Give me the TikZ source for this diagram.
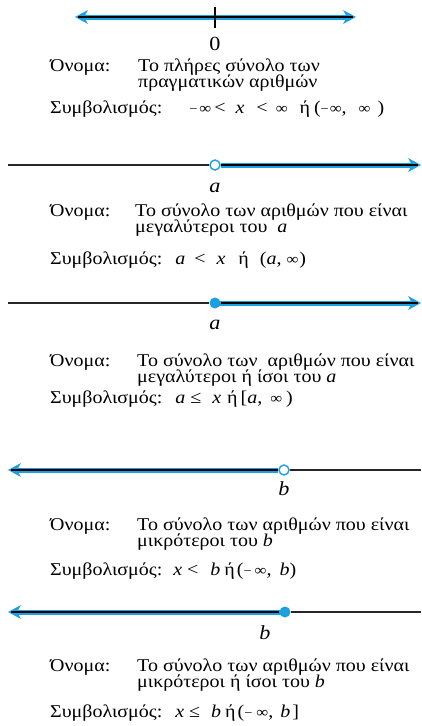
\documentclass[tikz,border=0pt]{standalone}
\usepackage{fontspec}
\setmainfont{Liberation Serif}[FakeStretch=1.11]
\usetikzlibrary{arrows.meta, positioning}
\definecolor{rayBlue}{RGB}{27,161,226}
\newcommand{\vr}[1]{\textit{#1}}
\newcommand{\mn}{{\fontsize{13}{13}\selectfont −}}
\newcommand{\infy}{{\fontsize{15}{15}\selectfont ∞}}
\newcommand{\txtfont}{\fontsize{18}{16}\selectfont\lineskiplimit-30pt\relax}
\tikzset{
  ray/.style={draw=rayBlue, line width=5pt},
  raycore/.style={draw=black, line width=1.1pt},
  axisline/.style={draw=black!85, line width=1.1pt},
  tipend/.style={-{Stealth[length=13pt, width=14pt, inset=4pt, line width=0pt]}},
  tipboth/.style={{Stealth[length=13pt, width=14pt, inset=4pt, line width=0pt]}-{Stealth[length=13pt, width=14pt, inset=4pt, line width=0pt]}},
  opendot/.style={circle, draw=rayBlue, fill=white, line width=1.4pt,
                  minimum size=10pt, inner sep=0pt},
  fulldot/.style={circle, fill=rayBlue, minimum size=11pt, inner sep=0pt},
  txt/.style={font=\txtfont, anchor=base west, inner sep=0pt, align=left},
  pt/.style={font=\fontsize{20}{20}\selectfont, anchor=base, inner sep=0pt},
}
\begin{document}
\begin{tikzpicture}[x=1pt, y=-1pt]
  \useasboundingbox (0,0) rectangle (421,726);
  % ================= all reals =================
  \begin{scope}
    \coordinate (allL) at (75,17);
    \coordinate (allR) at (356,17);
    \draw[ray, tipboth] (allL) -- (allR);
    \draw[raycore, shorten <=3pt, shorten >=3pt] (allL) -- (allR);
    \coordinate (zeroT) at (215,7);
    \coordinate (zeroB) at (215,28);
    \draw[line width=1.2pt] (zeroT) -- (zeroB);
    \node[pt] (zeroLbl) at (215,50) {0};
    \node[txt] (allName) at (50,71) {Όνομα:};
    % two-line texts sit on the baseline of their last line
    \node[txt] (allText) at (138,87) {Το πλήρες σύνολο των\\πραγματικών αριθμών};
    \node[txt] (allSym) at (50,113)
      {Συμβολισμός:\hspace{27pt}\mn\hspace{2pt}\infy\hspace{3pt}<\hspace{10pt}\vr{x}\hspace{12pt}<\hspace{8pt}\infy\hspace{12pt}ή\hspace{4pt}(\mn\hspace{1pt}\infy,\hspace{12pt}\infy\hspace{7pt})};
  \end{scope}
  % ================= a < x =================
  \begin{scope}
    \coordinate (gtL) at (8,165);
    \coordinate (gtR) at (421,165);
    \node[opendot] (gtPt) at (215,165) {};
    \draw[axisline] (gtL) -- (gtPt);
    \draw[ray, tipend] (gtPt) -- (gtR);
    \draw[raycore, shorten >=3pt] (gtPt) -- (gtR);
    \node[pt] (gtLbl) at (215,192) {\vr{a}};
    \node[txt] (gtName) at (50,216) {Όνομα:};
    \node[txt] (gtText) at (135,232) {Το σύνολο των αριθμών που είναι\\μεγαλύτεροι του \ \vr{a}};
    \node[txt] (gtSym) at (50,264)
      {Συμβολισμός:\hspace{13pt}\vr{a}\hspace{9pt}<\hspace{11pt}\vr{x}\hspace{13pt}ή\hspace{11pt}(\vr{a},\hspace{5pt}\infy\hspace{1pt})};
  \end{scope}
  % ================= a <= x =================
  \begin{scope}
    \coordinate (geL) at (8,303);
    \coordinate (geR) at (421,303);
    \node[fulldot] (gePt) at (215,303) {};
    \draw[axisline] (geL) -- (gePt);
    \draw[ray, tipend] (gePt.center) -- (geR);
    \draw[raycore, shorten >=3pt] (gePt) -- (geR);
    \node[pt] (geLbl) at (215,329) {\vr{a}};
    \node[txt] (geName) at (50,366) {Όνομα:};
    \node[txt] (geText) at (137,382) {Το σύνολο των \ αριθμών που είναι\\μεγαλύτεροι ή ίσοι του \vr{a}};
    \node[txt] (geSym) at (50,403)
      {Συμβολισμός:\hspace{13pt}\vr{a}\hspace{5pt}≤\hspace{11pt}\vr{x}\hspace{6pt}ή\hspace{3pt}[\vr{a},\hspace{8pt}\infy\hspace{4pt})};
  \end{scope}
  % ================= x < b =================
  \begin{scope}
    \coordinate (ltL) at (8,470);
    \coordinate (ltR) at (421,470);
    \node[opendot] (ltPt) at (284,470) {};
    \draw[axisline] (ltPt) -- (ltR);
    \draw[ray, tipend] (ltPt) -- (ltL);
    \draw[raycore, shorten >=3pt] (ltPt) -- (ltL);
    \node[pt] (ltLbl) at (284,495) {\vr{b}};
    \node[txt] (ltName) at (50,530) {Όνομα:};
    \node[txt] (ltText) at (137,546) {Το σύνολο των αριθμών που είναι\\μικρότεροι του \vr{b}};
    \node[txt] (ltSym) at (50,575)
      {Συμβολισμός:\hspace{11pt}\vr{x}\hspace{5pt}<\hspace{12pt}\vr{b}\hspace{4pt}ή\hspace{2pt}(\mn\hspace{3pt}\infy,\hspace{8pt}\vr{b})};
  \end{scope}
  % ================= x <= b =================
  \begin{scope}
    \coordinate (leL) at (8,612);
    \coordinate (leR) at (421,612);
    \node[fulldot] (lePt) at (285,612) {};
    \draw[axisline] (lePt) -- (leR);
    \draw[ray, tipend] (lePt.center) -- (leL);
    \draw[raycore, shorten >=3pt] (lePt) -- (leL);
    \node[pt] (leLbl) at (265,639) {\vr{b}};
    \node[txt] (leName) at (50,671) {Όνομα:};
    \node[txt] (leText) at (137,687) {Το σύνολο των αριθμών που είναι\\μικρότεροι ή ίσοι του \vr{b}};
    \node[txt] (leSym) at (50,717)
      {Συμβολισμός:\hspace{13pt}\vr{x}\hspace{5pt}≤\hspace{11pt}\vr{b}\hspace{4pt}ή\hspace{2pt}(\mn\hspace{4pt}\infy,\hspace{7pt}\vr{b}\hspace{2pt}]};
  \end{scope}
\end{tikzpicture}
\end{document}
